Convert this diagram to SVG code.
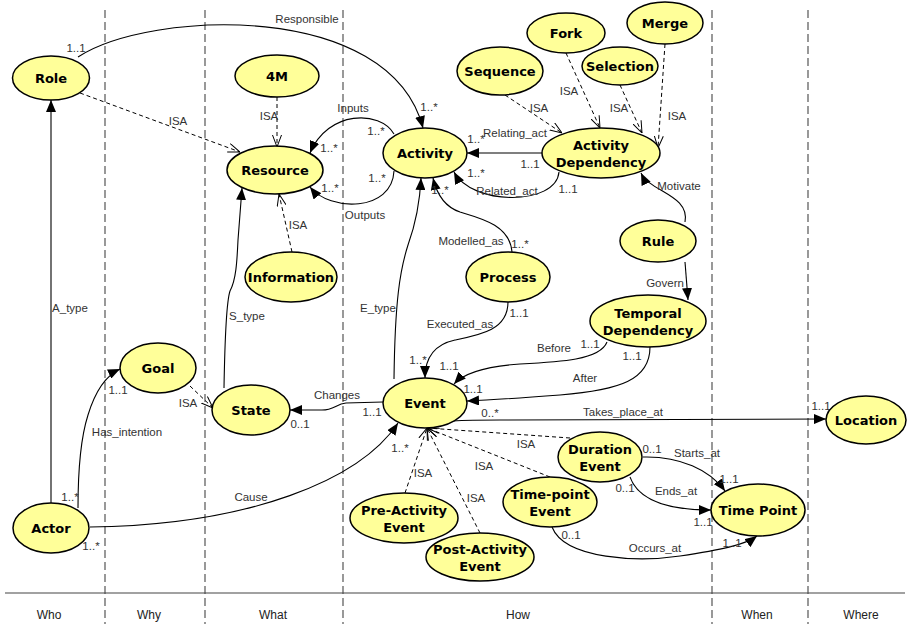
<svg xmlns="http://www.w3.org/2000/svg" width="909" height="624" viewBox="0 0 909 624">
<defs>
<marker id="arr" viewBox="0 0 12 10" refX="12" refY="5" markerWidth="12" markerHeight="10" orient="auto" markerUnits="userSpaceOnUse"><path d="M0,0 L12,5 L0,10 z" fill="#000"/></marker>
<marker id="isa" viewBox="0 0 12 10" refX="12" refY="5" markerWidth="12" markerHeight="10" orient="auto" markerUnits="userSpaceOnUse"><path d="M0,0.5 L12,5 L0,9.5" fill="none" stroke="#000" stroke-width="1"/></marker>
</defs>
<style>
.node ellipse{fill:#ffff99;stroke:#000;stroke-width:1.5}
.node text{font-family:"DejaVu Sans",Verdana,sans-serif;font-weight:bold;font-size:13px;fill:#000;text-anchor:middle}
.rel{fill:none;stroke:#000;stroke-width:1.1;marker-end:url(#arr)}
.isa{fill:none;stroke:#000;stroke-width:1;stroke-dasharray:4,3;marker-end:url(#isa)}
.lbl{font-family:"Liberation Sans",Arial,sans-serif;font-size:11.5px;fill:#333;text-anchor:middle}
.col{font-family:"Liberation Sans",Arial,sans-serif;font-size:12px;fill:#222;text-anchor:middle}
.lane{stroke:#555;stroke-width:1.2;stroke-dasharray:8,4}
</style>
<rect width="909" height="624" fill="#fff"/>
<g id="lanes">
<line class="lane" x1="105" y1="10" x2="105" y2="624"/>
<line class="lane" x1="205" y1="10" x2="205" y2="624"/>
<line class="lane" x1="343" y1="10" x2="343" y2="624"/>
<line class="lane" x1="712" y1="10" x2="712" y2="624"/>
<line class="lane" x1="808" y1="10" x2="808" y2="624"/>
<line x1="5" y1="593" x2="905" y2="593" stroke="#444" stroke-width="1.2"/>
<text class="col" x="49" y="619">Who</text>
<text class="col" x="149" y="619">Why</text>
<text class="col" x="273" y="619">What</text>
<text class="col" x="518" y="619">How</text>
<text class="col" x="757" y="619">When</text>
<text class="col" x="861" y="619">Where</text>
</g>
<g id="connectors">
<path class="rel" d="M78,57 C150,10 390,0 423,128"/>
<path class="isa" d="M80,93 L240,152"/>
<path class="isa" d="M277,97 L277,147"/>
<path class="isa" d="M292,252 L279,194"/>
<path class="rel" d="M394,134 C380,110 328,110 310,153"/>
<path class="rel" d="M394,171 C392,212 330,212 310,187"/>
<path class="rel" d="M542,153 L467,153"/>
<path class="rel" d="M559,172 C556,206 472,206 454,172"/>
<path class="isa" d="M505,95 L562,133"/>
<path class="isa" d="M566,53 L600,128"/>
<path class="isa" d="M620,85 L642,133"/>
<path class="isa" d="M665,44 L658,148"/>
<path class="rel" d="M685,222 C690,195 650,192 641,173"/>
<path class="rel" d="M685,262 L688,300"/>
<path class="rel" d="M512,252 C510,225 480,218 460,212 C445,207 437,195 433,178"/>
<path class="rel" d="M394,379 C395,300 400,270 408,245 C417,220 420,200 421,178"/>
<path class="rel" d="M508,302 C508,330 480,335 455,340 C432,345 425,360 425,378"/>
<path class="rel" d="M607,342 C600,360 560,362 520,364 C490,366 465,372 454,384"/>
<path class="rel" d="M650,347 C650,380 620,390 560,395 C520,398 490,400 467,401"/>
<path class="rel" d="M383,402 L346,403 C336,404 334,410 322,410 L290,410"/>
<path class="rel" d="M452,421 Q470,420 500,420 L826,419"/>
<path class="rel" d="M224,388 C225,330 227,300 230,291 C236,280 237,262 238,240 L242,188"/>
<path class="isa" d="M190,386 L213,408"/>
<path class="rel" d="M51,503 L51,100"/>
<path class="rel" d="M78,508 C78,470 80,440 88,415 C95,392 105,376 120,369"/>
<path class="rel" d="M90,527 C250,525 360,480 398,423"/>
<path class="isa" d="M405,493 L427,428"/>
<path class="isa" d="M480,533 L427,428"/>
<path class="isa" d="M550,477 L427,428"/>
<path class="isa" d="M570,438 L427,428"/>
<path class="rel" d="M643,457 C680,456 710,470 725,491"/>
<path class="rel" d="M630,477 C640,505 680,510 711,510"/>
<path class="rel" d="M552,527 C565,560 640,562 680,556 C720,550 745,545 757,536"/>
<text class="lbl" x="307" y="23">Responsible</text>
<text class="lbl" x="76" y="52">1..1</text>
<text class="lbl" x="429" y="111">1..*</text>
<text class="lbl" x="178" y="125">ISA</text>
<text class="lbl" x="269" y="120">ISA</text>
<text class="lbl" x="353" y="112">Inputs</text>
<text class="lbl" x="376" y="135">1..*</text>
<text class="lbl" x="329" y="152">1..*</text>
<text class="lbl" x="377" y="182">1..*</text>
<text class="lbl" x="330" y="192">1..*</text>
<text class="lbl" x="365" y="219">Outputs</text>
<text class="lbl" x="515" y="137">Relating_act</text>
<text class="lbl" x="476" y="143">1..*</text>
<text class="lbl" x="530" y="168">1..1</text>
<text class="lbl" x="507" y="195">Related_act</text>
<text class="lbl" x="476" y="177">1..*</text>
<text class="lbl" x="568" y="193">1..1</text>
<text class="lbl" x="539" y="112">ISA</text>
<text class="lbl" x="569" y="95">ISA</text>
<text class="lbl" x="619" y="112">ISA</text>
<text class="lbl" x="677" y="120">ISA</text>
<text class="lbl" x="679" y="190">Motivate</text>
<text class="lbl" x="665" y="287">Govern</text>
<text class="lbl" x="471" y="245">Modelled_as</text>
<text class="lbl" x="520" y="248">1..*</text>
<text class="lbl" x="440" y="194">1..*</text>
<text class="lbl" x="378" y="312">E_type</text>
<text class="lbl" x="460" y="328">Executed_as</text>
<text class="lbl" x="519" y="317">1..1</text>
<text class="lbl" x="418" y="364">1..*</text>
<text class="lbl" x="554" y="352">Before</text>
<text class="lbl" x="590" y="348">1..1</text>
<text class="lbl" x="449" y="370">1..1</text>
<text class="lbl" x="585" y="382">After</text>
<text class="lbl" x="632" y="360">1..1</text>
<text class="lbl" x="473" y="393">1..1</text>
<text class="lbl" x="337" y="399">Changes</text>
<text class="lbl" x="372" y="416">1..1</text>
<text class="lbl" x="300" y="428">0..1</text>
<text class="lbl" x="623" y="416">Takes_place_at</text>
<text class="lbl" x="490" y="417">0..*</text>
<text class="lbl" x="821" y="410">1..1</text>
<text class="lbl" x="247" y="320">S_type</text>
<text class="lbl" x="298" y="229">ISA</text>
<text class="lbl" x="70" y="312">A_type</text>
<text class="lbl" x="188" y="407">ISA</text>
<text class="lbl" x="127" y="436">Has_intention</text>
<text class="lbl" x="70" y="501">1..*</text>
<text class="lbl" x="118" y="394">1..1</text>
<text class="lbl" x="251" y="501">Cause</text>
<text class="lbl" x="91" y="550">1..*</text>
<text class="lbl" x="400" y="452">1..*</text>
<text class="lbl" x="423" y="477">ISA</text>
<text class="lbl" x="476" y="502">ISA</text>
<text class="lbl" x="484" y="470">ISA</text>
<text class="lbl" x="526" y="448">ISA</text>
<text class="lbl" x="697" y="457">Starts_at</text>
<text class="lbl" x="652" y="453">0..1</text>
<text class="lbl" x="729" y="483">1..1</text>
<text class="lbl" x="676" y="495">Ends_at</text>
<text class="lbl" x="625" y="492">0..1</text>
<text class="lbl" x="703" y="526">1..1</text>
<text class="lbl" x="655" y="552">Occurs_at</text>
<text class="lbl" x="571" y="539">0..1</text>
<text class="lbl" x="732" y="547">1..1</text>
</g>
<g id="role" class="node"><ellipse cx="51" cy="78" rx="38.5" ry="22"/><text x="51" y="83">Role</text></g>
<g id="m4" class="node"><ellipse cx="277" cy="76" rx="42" ry="21"/><text x="277" y="81">4M</text></g>
<g id="resource" class="node"><ellipse cx="275" cy="170" rx="48" ry="24"/><text x="275" y="175">Resource</text></g>
<g id="information" class="node"><ellipse cx="291" cy="277" rx="46" ry="25"/><text x="291" y="282">Information</text></g>
<g id="goal" class="node"><ellipse cx="158" cy="368" rx="38" ry="25"/><text x="158" y="373">Goal</text></g>
<g id="state" class="node"><ellipse cx="251" cy="410" rx="39" ry="25"/><text x="251" y="415">State</text></g>
<g id="actor" class="node"><ellipse cx="51" cy="528" rx="38" ry="25"/><text x="51" y="533">Actor</text></g>
<g id="activity" class="node"><ellipse cx="425" cy="153" rx="42" ry="25"/><text x="425" y="158">Activity</text></g>
<g id="sequence" class="node"><ellipse cx="500" cy="71" rx="43" ry="24"/><text x="500" y="76">Sequence</text></g>
<g id="fork" class="node"><ellipse cx="566" cy="33" rx="39" ry="20"/><text x="566" y="38">Fork</text></g>
<g id="selection" class="node"><ellipse cx="620" cy="66" rx="38" ry="19"/><text x="620" y="71">Selection</text></g>
<g id="merge" class="node"><ellipse cx="665" cy="23" rx="38" ry="21"/><text x="665" y="28">Merge</text></g>
<g id="activity-dependency" class="node"><ellipse cx="601" cy="153" rx="59" ry="25"/><text x="601" y="150">Activity</text><text x="601" y="167">Dependency</text></g>
<g id="rule" class="node"><ellipse cx="658" cy="241" rx="38" ry="21"/><text x="658" y="246">Rule</text></g>
<g id="temporal-dependency" class="node"><ellipse cx="648" cy="321" rx="58" ry="26"/><text x="648" y="318">Temporal</text><text x="648" y="335">Dependency</text></g>
<g id="process" class="node"><ellipse cx="508" cy="277" rx="42" ry="25"/><text x="508" y="282">Process</text></g>
<g id="event" class="node"><ellipse cx="425" cy="403" rx="42" ry="25"/><text x="425" y="408">Event</text></g>
<g id="pre-activity-event" class="node"><ellipse cx="404" cy="518" rx="54" ry="25"/><text x="404" y="515">Pre-Activity</text><text x="404" y="532">Event</text></g>
<g id="post-activity-event" class="node"><ellipse cx="480" cy="557" rx="54" ry="24"/><text x="480" y="554">Post-Activity</text><text x="480" y="571">Event</text></g>
<g id="time-point-event" class="node"><ellipse cx="550" cy="502" rx="47" ry="25"/><text x="550" y="499">Time-point</text><text x="550" y="516">Event</text></g>
<g id="duration-event" class="node"><ellipse cx="600" cy="457" rx="42" ry="25"/><text x="600" y="454">Duration</text><text x="600" y="471">Event</text></g>
<g id="time-point" class="node"><ellipse cx="758" cy="510" rx="47" ry="26"/><text x="758" y="515">Time Point</text></g>
<g id="location" class="node"><ellipse cx="866" cy="420" rx="40" ry="24"/><text x="866" y="425">Location</text></g>
</svg>
